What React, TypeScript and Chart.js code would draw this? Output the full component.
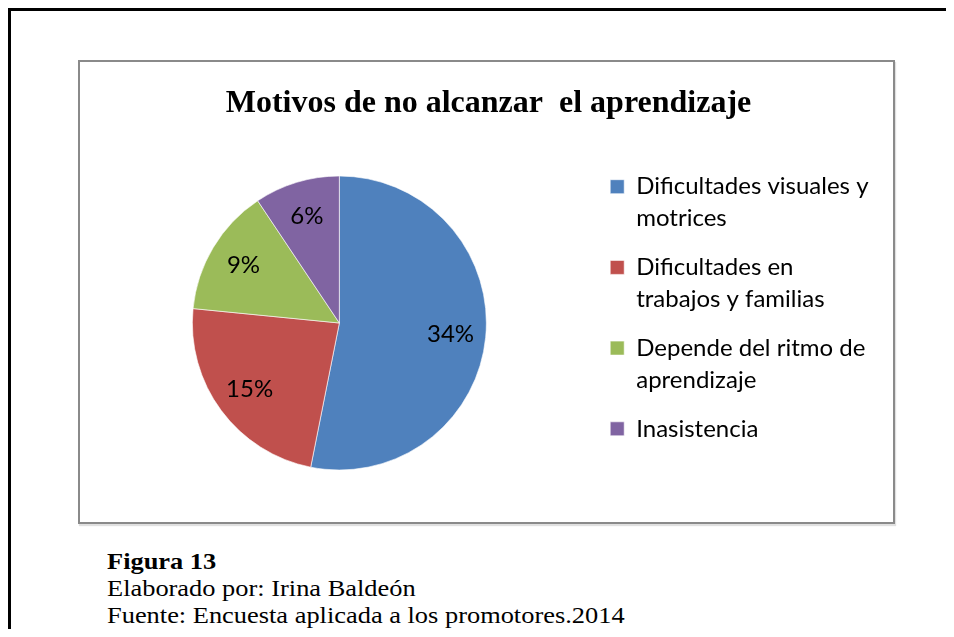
import React, { useEffect, useRef } from "react";
import { Chart, registerables } from "chart.js";

Chart.register(...registerables);

const categories: string[][] = [
  ["Dificultades visuales y", "motrices"],
  ["Dificultades en", "trabajos y familias"],
  ["Depende del ritmo de", "aprendizaje"],
  ["Inasistencia"],
];
const values = [34, 15, 9, 6];
const valueLabels = ["34%", "15%", "9%", "6%"];
const colors = ["#4F81BD", "#C0504D", "#9BBB59", "#8064A2"];
const titleText = "Motivos de no alcanzar  el aprendizaje";
const captionTitle = "Figura 13";
const captionLines = [
  "Elaborado por: Irina Baldeón",
  "Fuente: Encuesta aplicada a los promotores.2014",
];

const sliceLabels = {
  id: "sliceLabels",
  afterDatasetsDraw(chart: any) {
    const meta = chart.getDatasetMeta(0);
    const ctx = chart.ctx;
    ctx.save();
    ctx.font = "24px Lato";
    ctx.fillStyle = "#000";
    ctx.textAlign = "center";
    ctx.textBaseline = "middle";
    meta.data.forEach((arc: any, i: number) => {
      const p = arc.getProps(["x", "y", "startAngle", "endAngle", "outerRadius"], true);
      const mid = (p.startAngle + p.endAngle) / 2;
      const r = p.outerRadius * 0.76;
      ctx.fillText(valueLabels[i], p.x + Math.cos(mid) * r, p.y + Math.sin(mid) * r);
    });
    ctx.restore();
  },
};

const boxTitle = {
  id: "boxTitle",
  afterDraw(chart: any) {
    const ctx = chart.ctx;
    ctx.save();
    ctx.font = "bold 32px 'Liberation Serif'";
    ctx.fillStyle = "#000";
    ctx.textAlign = "center";
    ctx.textBaseline = "alphabetic";
    ctx.fillText(titleText, chart.width / 2 + 2, 50);
    ctx.restore();
  },
};

export default function App() {
  const ref = useRef<HTMLCanvasElement | null>(null);

  useEffect(() => {
    let chart: Chart | null = null;
    let cancelled = false;
    const make = () => {
      if (cancelled || !ref.current) return;
      chart = new Chart(ref.current, {
        type: "pie",
        data: {
          labels: categories as any,
          datasets: [
            {
              data: values,
              backgroundColor: colors,
              borderColor: "rgba(255,255,255,0.6)",
              borderWidth: 1,
              radius: 147,
            } as any,
          ],
        },
        options: {
          responsive: false,
          animation: false,
          layout: { padding: { left: 5.2, right: 14.5, top: 96, bottom: 34 } },
          plugins: {
            title: { display: false },
            legend: {
              position: "right",
              align: "start",
              fullSize: false,
              labels: {
                boxWidth: 14,
                boxHeight: 14,
                padding: 16.7,
                color: "#000",
                font: { family: "Lato", size: 24, lineHeight: 32 / 24 },
              },
            },
            tooltip: { enabled: false },
          },
        } as any,
        plugins: [sliceLabels, boxTitle],
      });
    };
    const fonts: any = (document as any).fonts;
    if (fonts && fonts.load) {
      Promise.all([
        fonts.load("24px Lato"),
        fonts.load("bold 32px 'Liberation Serif'"),
      ]).then(make, make);
    } else {
      make();
    }
    return () => {
      cancelled = true;
      if (chart) chart.destroy();
    };
  }, []);

  return (
    <div
      style={{
        position: "relative",
        width: 938,
        height: 621,
        boxSizing: "border-box",
        borderTop: "3px solid #000",
        borderLeft: "3px solid #000",
        fontFamily: "'Liberation Serif', 'Times New Roman', serif",
        color: "#000",
      }}
    >
      <div
        style={{
          position: "absolute",
          left: 67,
          top: 49,
          width: 813,
          height: 460,
          border: "2px solid #8a8a8a",
          boxShadow: "1px 2px 1px rgba(0,0,0,0.12)",
          background: "#fff",
        }}
      >
        <canvas ref={ref} width={813} height={460} style={{ display: "block" }} />
      </div>
      <div
        style={{
          position: "absolute",
          left: 96,
          top: 537,
          fontSize: 24,
          lineHeight: "27px",
          whiteSpace: "nowrap",
          transform: "scaleX(1.1)",
          transformOrigin: "0 0",
        }}
      >
        <div style={{ fontWeight: "bold" }}>{captionTitle}</div>
        {captionLines.map((l) => (
          <div key={l}>{l}</div>
        ))}
      </div>
    </div>
  );
}
